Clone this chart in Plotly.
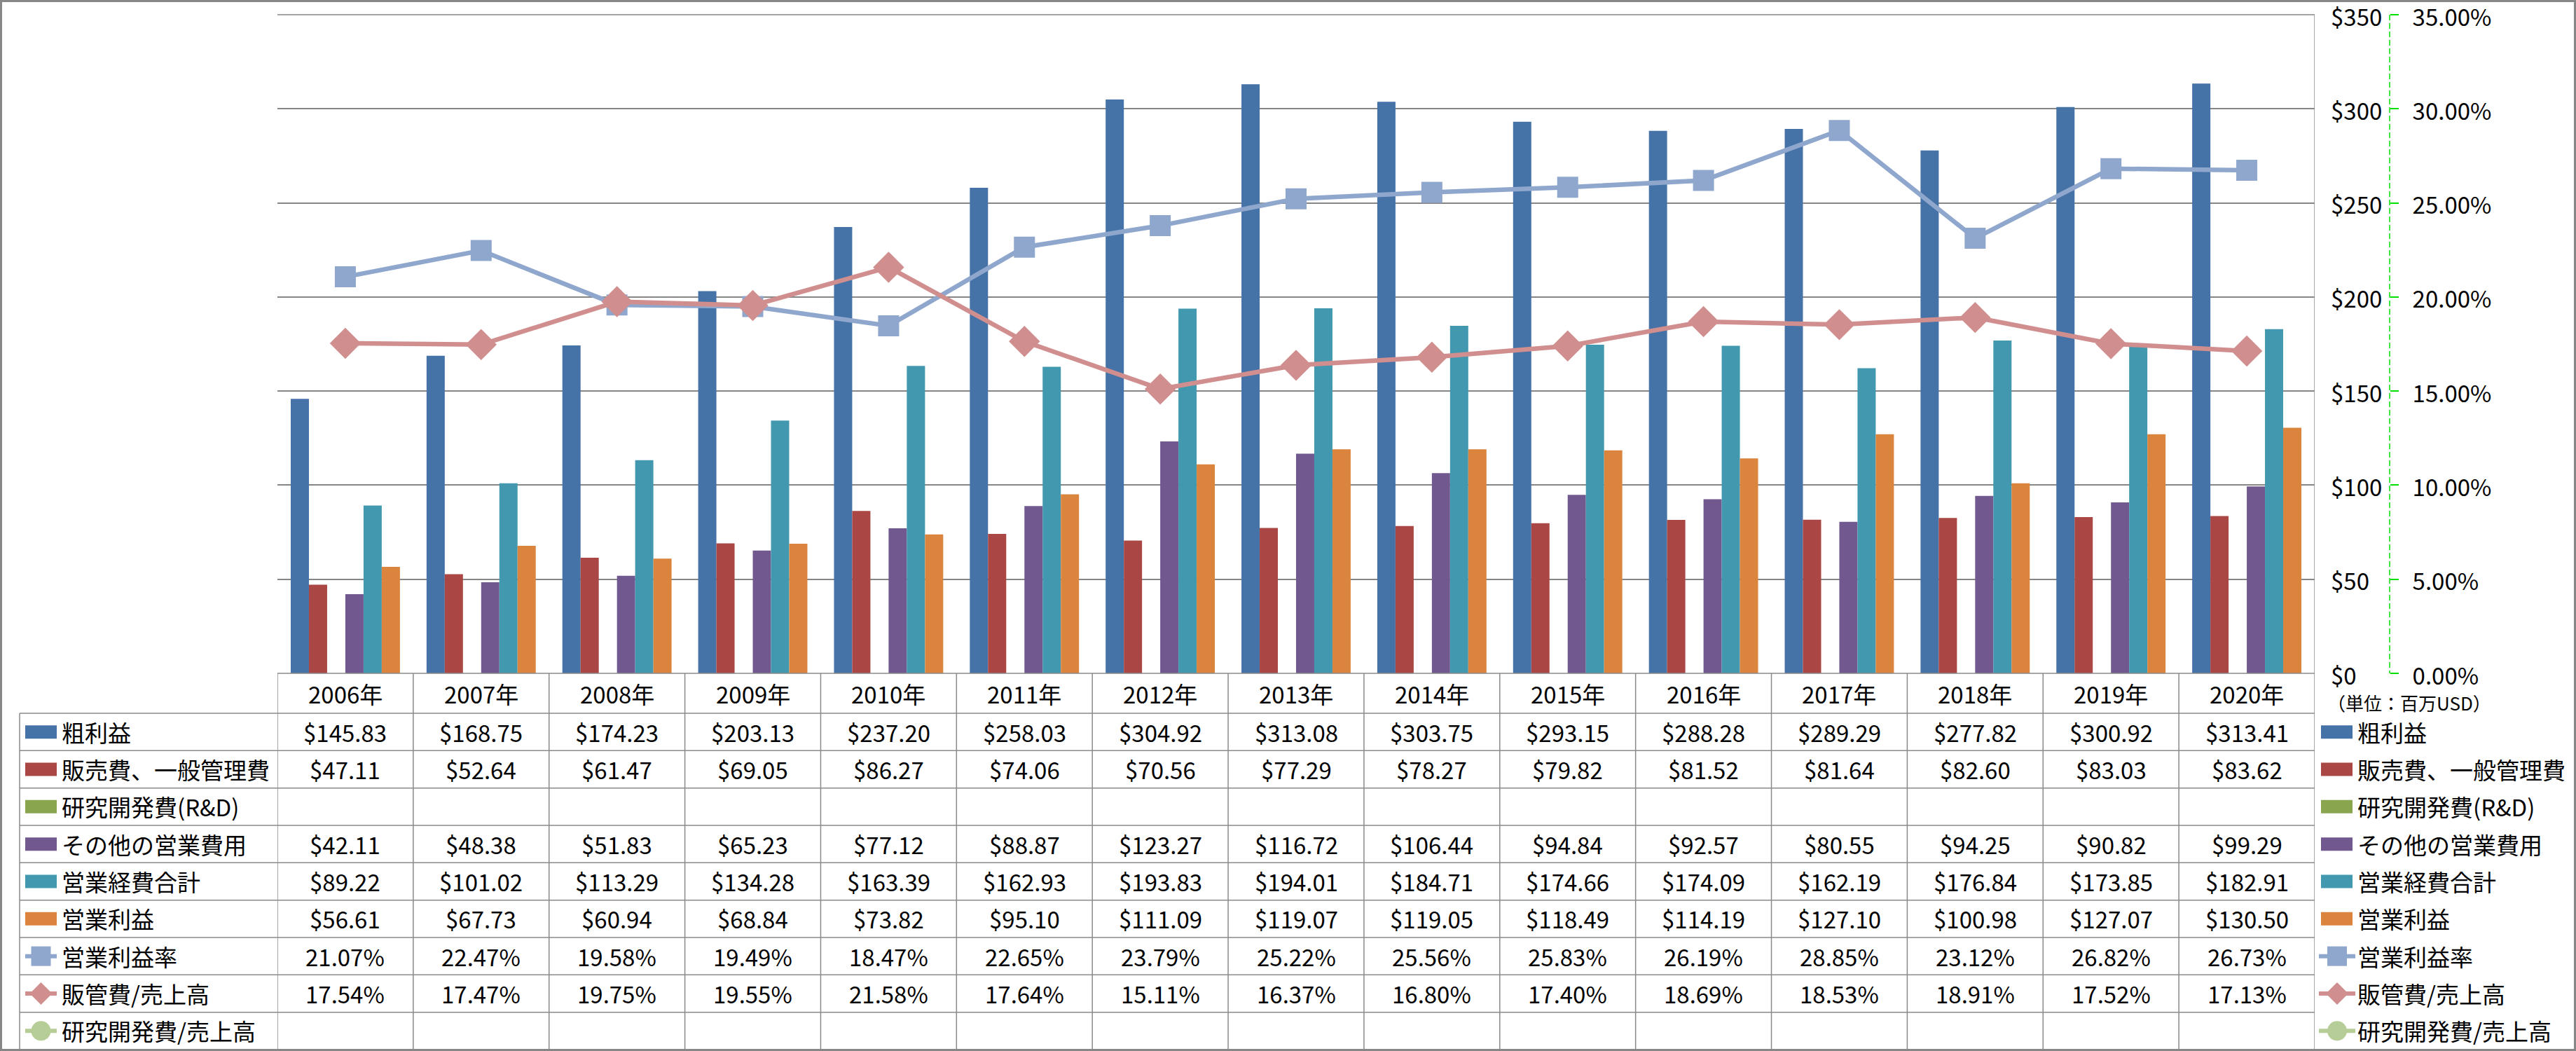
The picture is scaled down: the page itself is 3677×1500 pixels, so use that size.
import plotly.graph_objects as go

# ---------------- data ----------------
years = ["2006年", "2007年", "2008年", "2009年", "2010年", "2011年", "2012年", "2013年",
         "2014年", "2015年", "2016年", "2017年", "2018年", "2019年", "2020年"]
gross_profit = [145.83, 168.75, 174.23, 203.13, 237.20, 258.03, 304.92, 313.08,
                303.75, 293.15, 288.28, 289.29, 277.82, 300.92, 313.41]
sga = [47.11, 52.64, 61.47, 69.05, 86.27, 74.06, 70.56, 77.29,
       78.27, 79.82, 81.52, 81.64, 82.60, 83.03, 83.62]
rnd = [None] * 15
other_opex = [42.11, 48.38, 51.83, 65.23, 77.12, 88.87, 123.27, 116.72,
              106.44, 94.84, 92.57, 80.55, 94.25, 90.82, 99.29]
total_opex = [89.22, 101.02, 113.29, 134.28, 163.39, 162.93, 193.83, 194.01,
              184.71, 174.66, 174.09, 162.19, 176.84, 173.85, 182.91]
op_income = [56.61, 67.73, 60.94, 68.84, 73.82, 95.10, 111.09, 119.07,
             119.05, 118.49, 114.19, 127.10, 100.98, 127.07, 130.50]
op_margin = [0.2107, 0.2247, 0.1958, 0.1949, 0.1847, 0.2265, 0.2379, 0.2522,
             0.2556, 0.2583, 0.2619, 0.2885, 0.2312, 0.2682, 0.2673]
sga_ratio = [0.1754, 0.1747, 0.1975, 0.1955, 0.2158, 0.1764, 0.1511, 0.1637,
             0.1680, 0.1740, 0.1869, 0.1853, 0.1891, 0.1752, 0.1713]
rnd_ratio = [None] * 15

bar_names = ["粗利益", "販売費、一般管理費", "研究開発費(R&D)", "その他の営業費用", "営業経費合計", "営業利益"]
bar_values = [gross_profit, sga, rnd, other_opex, total_opex, op_income]
bar_colors = ["#4572A7", "#AA4643", "#89A54E", "#71588F", "#4198AF", "#DB843D"]

line_names = ["営業利益率", "販管費/売上高", "研究開発費/売上高"]
line_values = [op_margin, sga_ratio, rnd_ratio]
line_colors = ["#8FA7CD", "#D08F8E", "#B7CD97"]
line_symbols = ["square", "diamond", "circle"]
line_sizes = [28, 32, 28]

money_ticks = [0, 50, 100, 150, 200, 250, 300, 350]
pct_ticks = [0, 0.05, 0.10, 0.15, 0.20, 0.25, 0.30, 0.35]
unit_label = "（単位：百万USD）"

# ---------------- geometry (pixels) ----------------
W, H = 3677, 1500
PL, PR, PT, PB = 396, 3304, 21, 961
PW, PH = PR - PL, PB - PT
FONT = "Noto Sans CJK JP"
FS = 33
GRAY = "#8A8A8A"


def fx(px):
    return (px - PL) / PW


def fy(py):
    return (PB - py) / PH


HEADER_BOTTOM = 1018
ROW_H = (1498 - HEADER_BOTTOM) / 9
row_tops = [HEADER_BOTTOM + i * ROW_H for i in range(10)]

fig = go.Figure()

for name, vals, col in zip(bar_names, bar_values, bar_colors):
    fig.add_trace(go.Bar(x=years, y=vals, name=name, marker=dict(color=col, line=dict(width=0)),
                         yaxis="y"))

for name, vals, col, sym, sz in zip(line_names, line_values, line_colors, line_symbols, line_sizes):
    fig.add_trace(go.Scatter(x=years, y=vals, name=name, mode="lines+markers", yaxis="y2",
                             line=dict(color=col, width=6.5),
                             marker=dict(symbol=sym, size=sz, color=col,
                                         line=dict(color=col, width=2))))

shapes = []
annotations = []


def hline(x0, x1, y, color=GRAY, width=1.5):
    shapes.append(dict(type="line", xref="paper", yref="paper", x0=fx(x0), x1=fx(x1),
                       y0=fy(y), y1=fy(y), line=dict(color=color, width=width)))


def vline(x, y0, y1, color=GRAY, width=1.5, dash=None):
    ln = dict(color=color, width=width)
    if dash:
        ln["dash"] = dash
    shapes.append(dict(type="line", xref="paper", yref="paper", x0=fx(x), x1=fx(x),
                       y0=fy(y0), y1=fy(y1), line=ln))


# top gridline (range end)
hline(PL, PR, PT, color="#868686", width=1.5)
# table grid
hline(PL, PR, PB)
for y in row_tops:
    hline(28, PR, y)
vline(28, HEADER_BOTTOM, 1498)
for k in range(16):
    shapes.append(dict(type="line", xref="x", yref="paper", x0=k - 0.5, x1=k - 0.5,
                       y0=fy(PB if k < 15 else PT), y1=fy(1498),
                       line=dict(color=GRAY, width=1.5)))

# secondary axis dashed green line
vline(3411, PT, PB, color="#00E000", width=1.5, dash="8px,4px")

# outer border
shapes.append(dict(type="rect", xref="paper", yref="paper", x0=fx(1.5), x1=fx(W - 1.5),
                   y0=fy(1.5), y1=fy(H - 1.5), line=dict(color="#878787", width=3)))

# header year labels
for yr in years:
    annotations.append(dict(xref="x", yref="paper", x=yr, y=fy((PB + HEADER_BOTTOM) / 2),
                            text=yr, showarrow=False, font=dict(family=FONT, size=FS, color="black"),
                            xanchor="center", yanchor="middle"))

rows = []
for name, vals, col in zip(bar_names, bar_values, bar_colors):
    rows.append((name, "bar", col, None, vals, "$"))
for name, vals, col, sym in zip(line_names, line_values, line_colors, line_symbols):
    rows.append((name, "line", col, sym, vals, "%"))


def key(xl, xr, yc, kind, col, sym):
    if kind == "bar":
        shapes.append(dict(type="rect", xref="paper", yref="paper", x0=fx(xl), x1=fx(xl + 45),
                           y0=fy(yc - 9.5), y1=fy(yc + 9.5), line=dict(width=0), fillcolor=col))
    else:
        shapes.append(dict(type="line", xref="paper", yref="paper", x0=fx(xl), x1=fx(xr),
                           y0=fy(yc), y1=fy(yc), line=dict(color=col, width=6)))
        cx = (xl + xr) / 2
        r = 14
        if sym == "square":
            shapes.append(dict(type="rect", xref="paper", yref="paper", x0=fx(cx - r), x1=fx(cx + r),
                               y0=fy(yc - r), y1=fy(yc + r), line=dict(width=0), fillcolor=col))
        elif sym == "diamond":
            r = 16
            path = "M {} {} L {} {} L {} {} L {} {} Z".format(
                fx(cx - r), fy(yc), fx(cx), fy(yc - r), fx(cx + r), fy(yc), fx(cx), fy(yc + r))
            shapes.append(dict(type="path", xref="paper", yref="paper", path=path,
                               line=dict(width=0), fillcolor=col))
        else:
            shapes.append(dict(type="circle", xref="paper", yref="paper", x0=fx(cx - r), x1=fx(cx + r),
                               y0=fy(yc - r), y1=fy(yc + r), line=dict(width=0), fillcolor=col))


for i, (name, kind, col, sym, vals, fmt) in enumerate(rows):
    yc = (row_tops[i] + row_tops[i + 1]) / 2
    # left label column
    key(36, 81, yc, kind, col, sym)
    annotations.append(dict(xref="paper", yref="paper", x=fx(86), y=fy(yc), text=name,
                            showarrow=False, xanchor="left", yanchor="middle",
                            font=dict(family=FONT, size=FS, color="black")))
    # right legend
    key(3313 if kind == "bar" else 3310, 3362, yc, kind, col, sym)
    annotations.append(dict(xref="paper", yref="paper", x=fx(3363), y=fy(yc), text=name,
                            showarrow=False, xanchor="left", yanchor="middle",
                            font=dict(family=FONT, size=FS, color="black")))
    # values
    for yr, v in zip(years, vals):
        if v is None:
            continue
        txt = "${:.2f}".format(v) if fmt == "$" else "{:.2f}%".format(v * 100)
        annotations.append(dict(xref="x", yref="paper", x=yr, y=fy(yc), text=txt,
                                showarrow=False, xanchor="center", yanchor="middle",
                                font=dict(family=FONT, size=FS, color="black")))

annotations.append(dict(xref="paper", yref="paper", x=fx(3320), y=fy(1003), text=unit_label,
                        showarrow=False, xanchor="left", yanchor="middle",
                        font=dict(family=FONT, size=26, color="black")))

fig.update_layout(
    width=W, height=H,
    margin=dict(l=PL, r=W - PR, t=PT, b=H - PB, pad=0),
    paper_bgcolor="white", plot_bgcolor="white",
    barmode="group", bargap=0.196, bargroupgap=0,
    showlegend=False,
    font=dict(family=FONT, size=FS, color="black"),
    xaxis=dict(type="category", range=[-0.5, 14.5], showticklabels=False, ticks="",
               showgrid=False, showline=False, zeroline=False, fixedrange=True),
    yaxis=dict(range=[0, 350], tickmode="array", tickvals=money_ticks,
               ticktext=["${}".format(t) for t in money_ticks], side="right",
               showgrid=True, gridcolor="#868686", gridwidth=1.5, zeroline=False,
               showline=False, ticks="", ticklabelstandoff=22, ticklabeloverflow="allow",
               ticklabelshift=4,
               automargin=False, tickfont=dict(family=FONT, size=FS, color="black")),
    yaxis2=dict(range=[0, 0.35], tickmode="array", tickvals=pct_ticks,
                ticktext=["{:.2f}%".format(t * 100) for t in pct_ticks], overlaying="y", side="right",
                anchor="free", position=1, shift=107, showgrid=False, zeroline=False,
                showline=False, ticks="outside", ticklen=12, tickcolor="#00E000", tickwidth=1.5,
                ticklabelstandoff=13, ticklabeloverflow="allow", ticklabelshift=4, automargin=False,
                tickfont=dict(family=FONT, size=FS, color="black")),
    shapes=shapes,
    annotations=annotations,
)

fig.write_html("out.html", config={"displayModeBar": False},
               post_script="document.body.style.margin='0';document.body.style.padding='0';")
